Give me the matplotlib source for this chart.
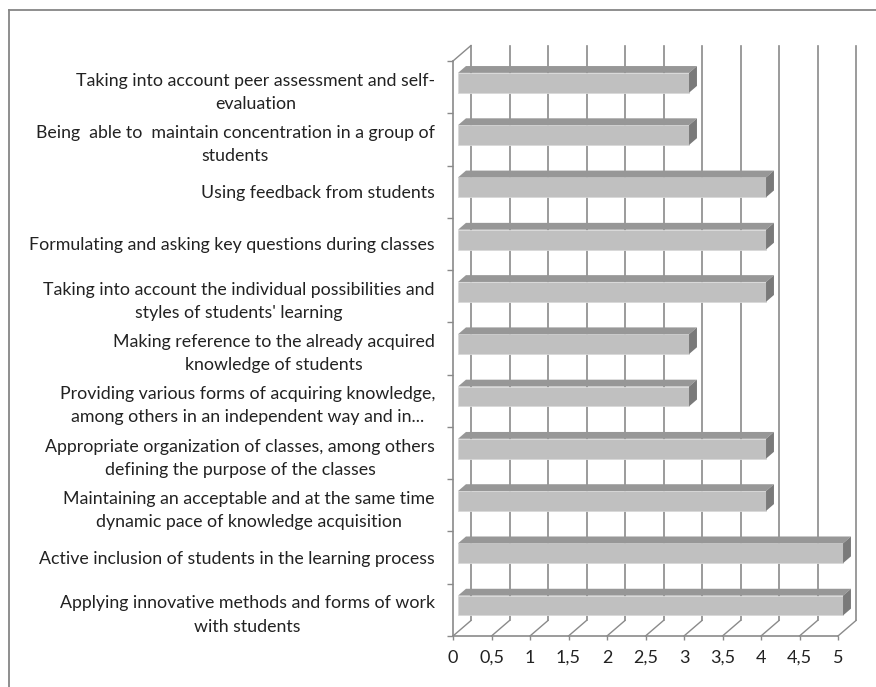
import matplotlib
matplotlib.use("Agg")
import matplotlib.pyplot as plt
from matplotlib.patches import Polygon
from matplotlib.lines import Line2D
import numpy as np

# categories listed bottom to top (same order as the y axis)
categories = [
    "Applying innovative methods and forms of work\nwith students",
    "Active inclusion of students in the learning process",
    "Maintaining an acceptable and at the same time\ndynamic pace of knowledge acquisition",
    "Appropriate organization of classes, among others\ndefining the purpose of the classes",
    "Providing various forms of acquiring knowledge,\namong others in an independent way and in...",
    "Making reference to the already acquired\nknowledge of students",
    "Taking into account the individual possibilities and\nstyles of students' learning",
    "Formulating and asking key questions during classes",
    "Using feedback from students",
    "Being  able to  maintain concentration in a group of\nstudents",
    "Taking into account peer assessment and self-\nevaluation",
]
scores = [5, 5, 4, 4, 3, 3, 4, 4, 4, 3, 3]
x_ticks = np.arange(0, 5.01, 0.5)
x_tick_labels = ["0", "0,5", "1", "1,5", "2", "2,5", "3", "3,5", "4", "4,5", "5"]

plt.rcParams["font.family"] = ["Lato", "DejaVu Sans"]

W, H = 876, 687
fig = plt.figure(figsize=(W / 100, H / 100), dpi=100)

# axes placed so that x=0..5 sits at px 453..838 and the 11 rows at px 61..636
px_x, px_y = 77.0, 52.27
ax_l, ax_r, ax_t, ax_b = 440, 876, 30, 650
ax = fig.add_axes([ax_l / W, 1 - ax_b / H, (ax_r - ax_l) / W, (ax_b - ax_t) / H])
ax.set_xlim((ax_l - 453) / px_x, (ax_r - 453) / px_x)
ax.set_ylim(-(ax_b - 636) / px_y, 11 + (61 - ax_t) / px_y)
ax.patch.set_visible(False)

# oblique depth of the 3D box in data units
dx, dy = 18 / px_x, 15.5 / px_y
grid_c = "#8a8a8a"
n = len(categories)

# back wall gridlines and floor diagonals
for xv in x_ticks:
    ax.plot([xv + dx, xv + dx], [dy, n + dy], color=grid_c, lw=1.2, zorder=1)
    ax.plot([xv, xv + dx], [0, dy], color=grid_c, lw=1.0, zorder=1)
# left wall top edge
ax.plot([0, dx], [n, n + dy], color=grid_c, lw=1.0, zorder=1)

# bars: front face via barh, top and side faces as polygons
f1, f2 = 0.28, 0.72
bar_h = 0.38
face_c, top_c, side_c = "#c0c0c0", "#979797", "#7a7a7a"
yc = np.arange(n) + 0.5
ax.barh(yc + f1 * dy, scores, height=bar_h, left=f1 * dx,
        color=face_c, edgecolor="#d8d8d8", linewidth=0.6, zorder=3)
for y0, v in zip(yc, scores):
    xl, xr = f1 * dx, v + f1 * dx
    yb, yt = y0 + f1 * dy - bar_h / 2, y0 + f1 * dy + bar_h / 2
    ox, oy = (f2 - f1) * dx, (f2 - f1) * dy
    ax.add_patch(Polygon([(xl, yt), (xr, yt), (xr + ox, yt + oy), (xl + ox, yt + oy)],
                         closed=True, facecolor=top_c, edgecolor="none", zorder=3))
    ax.add_patch(Polygon([(xr, yb), (xr + ox, yb + oy), (xr + ox, yt + oy), (xr, yt)],
                         closed=True, facecolor=side_c, edgecolor="none", zorder=3))

# axes lines on the front plane
for side in ["top", "right"]:
    ax.spines[side].set_visible(False)
ax.spines["bottom"].set_position(("data", 0))
ax.spines["bottom"].set_bounds(0, 5)
ax.spines["left"].set_position(("data", 0))
ax.spines["left"].set_bounds(0, n)
for side in ["bottom", "left"]:
    ax.spines[side].set_color(grid_c)
    ax.spines[side].set_linewidth(1.2)

ax.set_xticks(x_ticks)
ax.set_xticklabels(x_tick_labels)
ax.tick_params(axis="x", direction="out", length=3, width=1.0, color=grid_c,
               pad=7, labelsize=13, labelcolor="#222222")

ax.set_yticks(np.arange(n + 1))
ax.set_yticklabels([])
ax.set_yticks(yc, minor=True)
ax.set_yticklabels(categories, minor=True, multialignment="center", linespacing=1.55)
ax.tick_params(axis="y", which="major", direction="out", length=4.5, width=1.0, color=grid_c)
ax.tick_params(axis="y", which="minor", length=0, pad=13, labelsize=12.8,
               labelcolor="#222222")

# chart area border (top and left edges)
border_c = "#868686"
fig.add_artist(Line2D([9 / W, 1], [1 - 10 / H, 1 - 10 / H], color=border_c, lw=1.3))
fig.add_artist(Line2D([9 / W, 9 / W], [0, 1 - 10 / H], color=border_c, lw=1.3))

fig.savefig("out.png", dpi=100)
